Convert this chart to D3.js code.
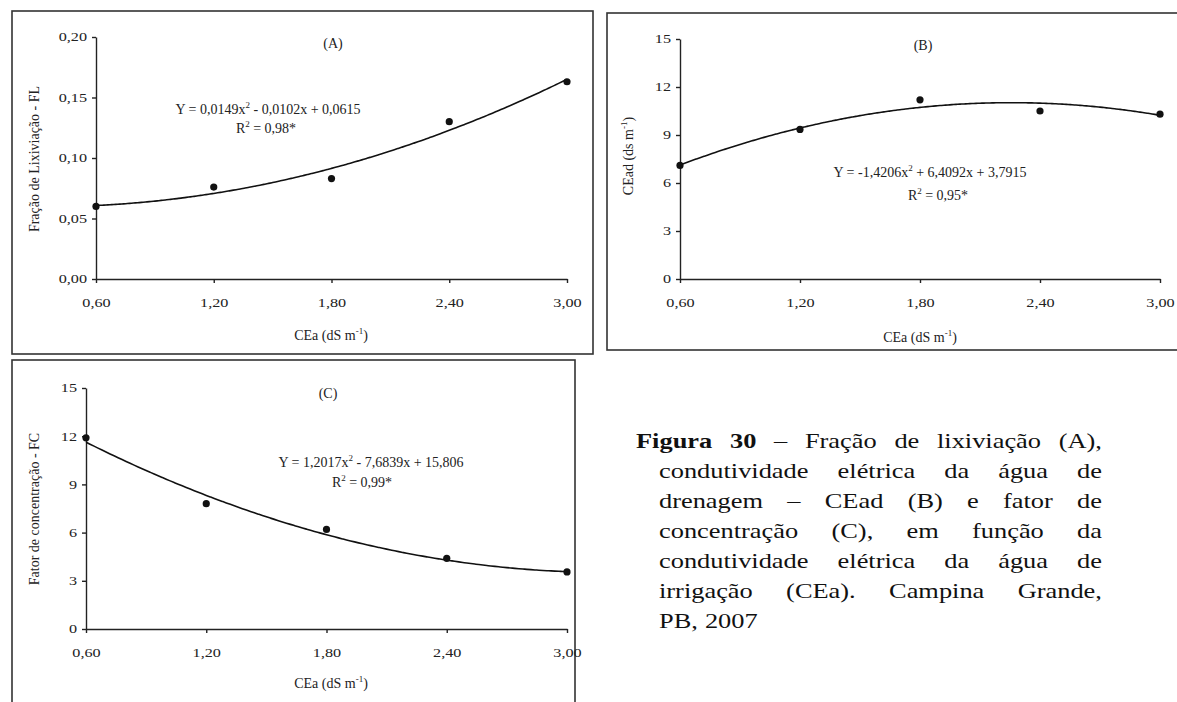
<!DOCTYPE html>
<html lang="en">
<head>
<meta charset="utf-8">
<title>Figura 30</title>
<script src="https://d3js.org/d3.v7.min.js"></script>
<style>
  body { margin: 0; background: #fff; }
  svg { display: block; font-family: "Liberation Serif", "Times New Roman", serif; }
  .axis path, .axis line { stroke: #222; stroke-width: 1.4px; }
  .axis text { font-size: 12px; fill: #222; font-family: "Liberation Serif", serif; }
  .lbl { font-size: 14px; fill: #222; font-family: "Liberation Serif", serif; }
  .frame { fill: none; stroke: #333; stroke-width: 1.6px; }
  .caption text { font-size: 22px; fill: #111; font-family: "Liberation Serif", serif; }
</style>
</head>
<body>
<script>
// ----- data -----
const cea = [0.6, 1.2, 1.8, 2.4, 3.0];
const xTicks = [0.6, 1.2, 1.8, 2.4, 3.0];
const flValues = [0.060, 0.076, 0.083, 0.130, 0.163];
const ceadValues = [7.1, 9.35, 11.2, 10.5, 10.3];
const fcValues = [11.9, 7.8, 6.2, 4.4, 3.55];
const flTicks = [0, 0.05, 0.10, 0.15, 0.20];
const ceadTicks = [0, 3, 6, 9, 12, 15];
const fcTicks = [0, 3, 6, 9, 12, 15];
// quadratic fits printed on the chart: a*x^2 + b*x + c
const flFit = [0.0149, -0.0102, 0.0615];
const ceadFit = [-1.4206, 6.4092, 3.7915];
const fcFit = [1.2017, -7.6839, 15.806];

const comma = v => d3.format(".2f")(v).replace(".", ",");
const stretch = 1.35;     // scanned tick text is wider than it is tall
const capStretch = 1.2;

const svg = d3.select("body").append("svg")
  .attr("width", 1177).attr("height", 702);

// panel frames
svg.append("rect").attr("class", "frame").attr("x", 12).attr("y", 11).attr("width", 581).attr("height", 343);
svg.append("rect").attr("class", "frame").attr("x", 607).attr("y", 13).attr("width", 575).attr("height", 337);
svg.append("rect").attr("class", "frame").attr("x", 12).attr("y", 360).attr("width", 563).attr("height", 350);

const panels = [
  { vals: flValues, fit: flFit, ticks: flTicks, fmt: comma, dom: [0, 0.2],
    xr: [96, 567], yr: [279, 37], tag: "(A)", tagPos: [333, 48],
    eq: ["Y = 0,0149x", " - 0,0102x + 0,0615"], eqPos: [268, 114], r2: "0,98*", r2Pos: [266, 133],
    ytitle: ["Fração de Lixiviação - FL", ""], ytPos: [39, 159], xtPos: [331, 340] },
  { vals: ceadValues, fit: ceadFit, ticks: ceadTicks, fmt: d3.format("d"), dom: [0, 15],
    xr: [680, 1160], yr: [279, 39], tag: "(B)", tagPos: [923, 50],
    eq: ["Y = -1,4206x", " + 6,4092x + 3,7915"], eqPos: [930, 177], r2: "0,95*", r2Pos: [938, 200],
    ytitle: ["CEad (ds m", ")"], ytPos: [633, 156], xtPos: [920, 342] },
  { vals: fcValues, fit: fcFit, ticks: fcTicks, fmt: d3.format("d"), dom: [0, 15],
    xr: [86, 567], yr: [629, 388], tag: "(C)", tagPos: [328, 398],
    eq: ["Y = 1,2017x", " - 7,6839x + 15,806"], eqPos: [371, 467], r2: "0,99*", r2Pos: [362, 487],
    ytitle: ["Fator de concentração - FC", ""], ytPos: [39, 509], xtPos: [331, 688] }
];

panels.forEach(p => {
  const x = d3.scaleLinear().domain([0.6, 3.0]).range(p.xr);
  const y = d3.scaleLinear().domain(p.dom).range(p.yr);
  const g = svg.append("g");

  const ya = g.append("g").attr("class", "axis")
    .attr("transform", `translate(${p.xr[0]},0)`)
    .call(d3.axisLeft(y).tickValues(p.ticks).tickFormat(p.fmt).tickSize(4).tickSizeOuter(0).tickPadding(5));
  ya.selectAll("text").attr("x", -9 / stretch).attr("transform", `scale(${stretch},1)`);

  const xa = g.append("g").attr("class", "axis")
    .attr("transform", `translate(0,${p.yr[0]})`)
    .call(d3.axisBottom(x).tickValues(xTicks).tickFormat(comma).tickSize(4).tickSizeOuter(0).tickPadding(15));
  xa.selectAll("text").attr("transform", `scale(${stretch},1)`);

  // fitted curve
  const [a, b, c] = p.fit;
  const xs = d3.range(0.6, 3.0001, 0.02);
  g.append("path")
    .datum(xs)
    .attr("fill", "none").attr("stroke", "#111").attr("stroke-width", 1.6)
    .attr("d", d3.line().x(d => x(d)).y(d => y(a * d * d + b * d + c)).curve(d3.curveBasis));

  g.selectAll("circle.pt").data(p.vals).join("circle")
    .attr("class", "pt")
    .attr("cx", (d, i) => x(cea[i])).attr("cy", d => y(d)).attr("r", 3.6).attr("fill", "#111");

  g.append("text").attr("class", "lbl").attr("x", p.tagPos[0]).attr("y", p.tagPos[1])
    .attr("text-anchor", "middle").text(p.tag);

  const eq = g.append("text").attr("class", "lbl").attr("x", p.eqPos[0]).attr("y", p.eqPos[1])
    .attr("text-anchor", "middle");
  eq.append("tspan").text(p.eq[0]);
  eq.append("tspan").attr("dy", -6).attr("font-size", "9px").text("2");
  eq.append("tspan").attr("dy", 6).text(p.eq[1]);

  const r2 = g.append("text").attr("class", "lbl").attr("x", p.r2Pos[0]).attr("y", p.r2Pos[1])
    .attr("text-anchor", "middle");
  r2.append("tspan").text("R");
  r2.append("tspan").attr("dy", -6).attr("font-size", "9px").text("2");
  r2.append("tspan").attr("dy", 6).text(" = " + p.r2);

  const yt = g.append("text").attr("class", "lbl")
    .attr("transform", `translate(${p.ytPos[0]},${p.ytPos[1]}) rotate(-90)`)
    .attr("text-anchor", "middle");
  yt.append("tspan").text(p.ytitle[0]);
  if (p.ytitle[1]) {
    yt.append("tspan").attr("dy", -6).attr("font-size", "9px").text("-1");
    yt.append("tspan").attr("dy", 6).text(p.ytitle[1]);
  }

  const xt = g.append("text").attr("class", "lbl").attr("x", p.xtPos[0]).attr("y", p.xtPos[1])
    .attr("text-anchor", "middle");
  xt.append("tspan").text("CEa (dS m");
  xt.append("tspan").attr("dy", -6).attr("font-size", "9px").text("-1");
  xt.append("tspan").attr("dy", 6).text(")");
});

// caption, justified by hand
const capLines = [
  ["Figura", "30", "–", "Fração", "de", "lixiviação", "(A),"],
  ["condutividade", "elétrica", "da", "água", "de"],
  ["drenagem", "–", "CEad", "(B)", "e", "fator", "de"],
  ["concentração", "(C),", "em", "função", "da"],
  ["condutividade", "elétrica", "da", "água", "de"],
  ["irrigação", "(CEa).", "Campina", "Grande,"],
  ["PB,", "2007"]
];
const capLeft = [636, 659, 659, 659, 659, 659, 659];
const capRight = 1102;
const capG = svg.append("g").attr("class", "caption");
capLines.forEach((words, li) => {
  const yb = 448 + li * 30;
  const nodes = words.map((w, wi) => capG.append("text")
    .attr("font-weight", li === 0 && wi < 2 ? "bold" : "normal")
    .text(w));
  const widths = nodes.map(n => n.node().getComputedTextLength() * capStretch);
  const total = d3.sum(widths);
  const last = li === capLines.length - 1;
  const gap = last ? 7 : (capRight - capLeft[li] - total) / (words.length - 1);
  let cx = capLeft[li];
  nodes.forEach((n, i) => {
    n.attr("transform", `translate(${cx},${yb}) scale(${capStretch},1)`);
    cx += widths[i] + gap;
  });
});
</script>
</body>
</html>
